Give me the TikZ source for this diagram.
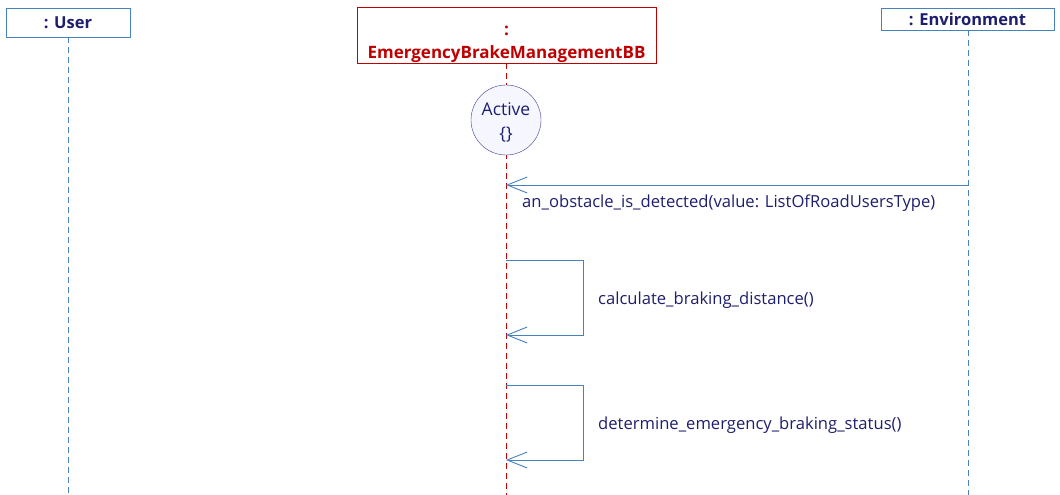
\documentclass[tikz,border=0pt]{standalone}
\usepackage{fontspec}
\setmainfont{Open Sans}
\usetikzlibrary{arrows.meta}
\definecolor{lineblue}{RGB}{70,130,190}
\definecolor{navy}{RGB}{30,30,110}
\definecolor{bbred}{RGB}{192,0,0}
\definecolor{statefill}{RGB}{246,246,255}
\definecolor{stateline}{RGB}{60,60,140}
\newcommand{\tallstrut}[1]{\rule{0pt}{#1}}
\begin{document}
\begin{tikzpicture}[
		x=1pt, y=-1pt,
		actor/.style={draw=lineblue, fill=white, inner sep=0pt, font=\fontsize{16.5}{18}\selectfont\bfseries, text=navy},
		block/.style={draw=bbred, fill=white, inner sep=0pt, align=center, font=\fontsize{17}{23}\selectfont\bfseries, text=bbred},
		life/.style={lineblue, dash pattern=on 6pt off 4pt, line width=0.9pt},
		msg/.style={lineblue, line width=0.9pt, -{Straight Barb[length=20pt,width=16pt,line width=0.9pt]}},
		msglabel/.style={font=\fontsize{16.6}{19}\selectfont, text=navy, anchor=west, inner sep=0pt},
		state/.style={circle, draw=stateline, fill=statefill, minimum size=70pt, inner sep=0pt, align=center, font=\fontsize{17.5}{24}\selectfont, text=navy}
		]
		\useasboundingbox (0,0) rectangle (1060,495);
		
		% Lifeline heads
		\node[actor, minimum width=124pt, minimum height=29pt] (user) at (68,22.5) {: User};
		\node[block, minimum width=299pt, minimum height=54pt] (ebm) at (506.5,35) {\tallstrut{29pt}:\\EmergencyBrakeManagementBB};
		\node[actor, minimum width=173pt, minimum height=22pt] (env) at (967.5,19) {: Environment};
		
		% Lifelines
		\coordinate (userEnd) at (68,495);
		\coordinate (ebmEnd) at (506,495);
		\coordinate (envEnd) at (968,495);
		\draw[life] (user.south) -- (userEnd);
		\draw[life, bbred] (ebm.south -| ebmEnd) -- (ebmEnd);
		\draw[life] (env.south -| envEnd) -- (envEnd);
		
		% State
		\node[state] (active) at (506,120) {\tallstrut{18.5pt}Active\\\{\}};
		
		% an_obstacle_is_detected
		\coordinate (detFrom) at (968,185);
		\coordinate (detTo) at (506,185);
		\draw[msg] (detFrom) -- (detTo);
		\node[msglabel] (detLabel) at (522,203) {an\_obstacle\_is\_detected(value: ListOfRoadUsersType)};
		
		% calculate_braking_distance
		\coordinate (calcFrom) at (506,260);
		\coordinate (calcTo) at (506,335);
		\draw[msg] (calcFrom) -- (583,260) -- (583,335) -- (calcTo);
		\node[msglabel] (calcLabel) at (598,300) {calculate\_braking\_distance()};
		
		% determine_emergency_braking_status
		\coordinate (detrFrom) at (506,385);
		\coordinate (detrTo) at (506,460);
		\draw[msg] (detrFrom) -- (583,385) -- (583,460) -- (detrTo);
		\node[msglabel] (detrLabel) at (598,425) {determine\_emergency\_braking\_status()};
		
	\end{tikzpicture}
\end{document}
